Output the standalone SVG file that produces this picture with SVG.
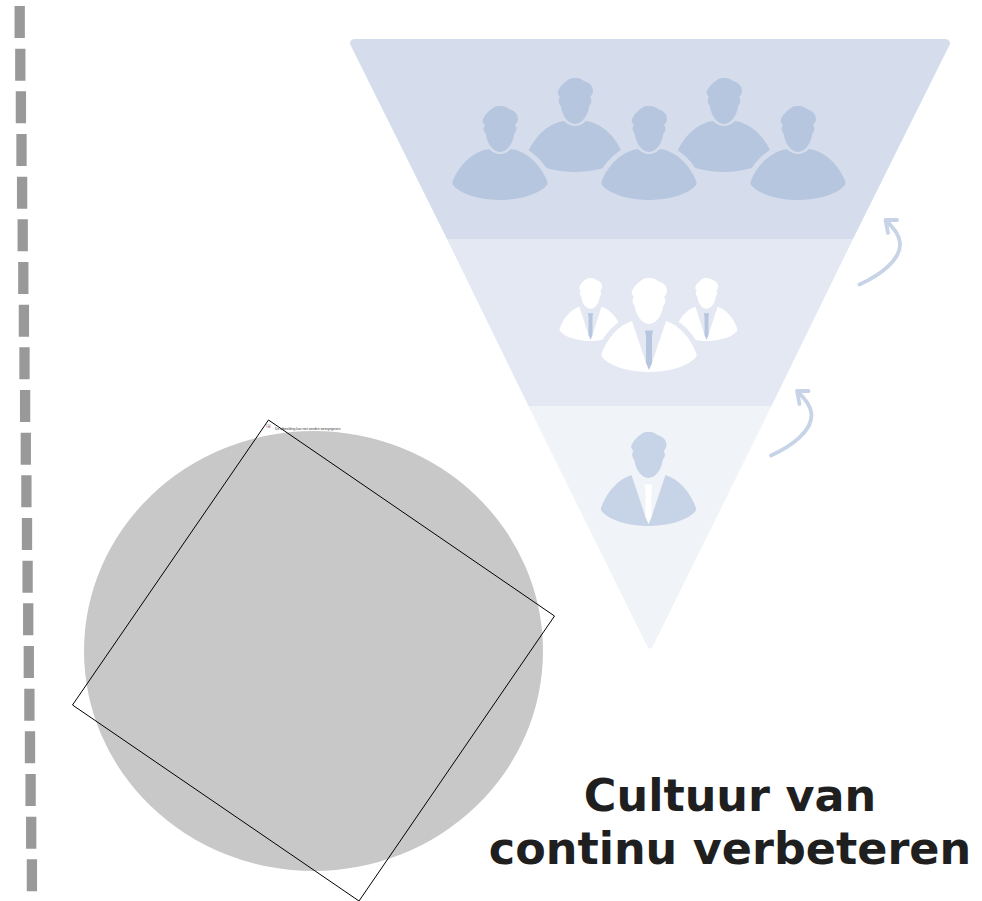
<svg xmlns="http://www.w3.org/2000/svg" xmlns:xlink="http://www.w3.org/1999/xlink" width="982" height="901" viewBox="0 0 982 901">
<style>
.arrow{fill:none;stroke:#c7d3e6;stroke-width:3.8;stroke-linecap:round;stroke-linejoin:round}
.title{font-family:"DejaVu Sans",Verdana,sans-serif;font-weight:700;font-size:44.5px;fill:#1f1f1f;text-anchor:middle}
</style>
<defs>
<path id="head" d="M0,0C4,-.5 7,1 9,3C13,4 18,7 18,13C18,16 16,18 15,19C16,20 17,23 16,25C15,27 14,28 14,29C13,37 7,46 0,46C-7,46 -13,37 -14,29C-14,28 -15,27 -16,25C-17,23 -16,20 -15,19C-17,17 -18,15 -17,13C-15,8 -9,3 -7,2C-5,0 -2,0 0,0Z"/>
<path id="body" d="M-11,43C-7,47 -3,48 0,48C3,48 7,47 11,43C27,45 42,60 47.5,76C47.8,77 47.5,78 47,79C38,90 15,94 0,94C-15,94 -38,90 -47,79C-47.5,78 -47.8,77 -47.5,76C-42,60 -27,45 -11,43Z"/>
<path id="suit" d="M-17,43C-30,47 -42,60 -47.5,76C-47.8,77 -47.5,78 -47,79C-38,90 -15,94 0,94C15,94 38,90 47,79C47.5,78 47.8,77 47.5,76C42,60 30,47 17,43L3,85Q0,92 -3,85Z"/>
<path id="outline" d="M-17,43C-30,47 -42,60 -47.5,76C-47.8,77 -47.5,78 -47,79C-38,90 -15,94 0,94C15,94 38,90 47,79C47.5,78 47.8,77 47.5,76C42,60 30,47 17,43Z"/>
<path id="tie" d="M-4,52.500H4L3,58L3,85L0,92L-3,85L-3,58Z"/>
</defs>
<rect width="982" height="901" fill="#fff"/>
<g id="dashed-line"><path d="M19.7,6v32M20.3,48.700v32M20.900,91.300v32M21.500,134v32M22.100,176.700v32M22.700,219.300v32M23.300,262v32M23.900,304.700v32M24.500,347.300v32M25.100,390v32M25.800,432.700v32M26.400,475.300v32M27,518v32M27.600,560.700v32M28.200,603.300v32M28.800,646v32M29.400,688.700v32M30,731.300v32M30.600,774v32M31.200,816.700v32M31.900,859.300v32" fill="none" stroke="#999" stroke-width="10.300"/></g>
<g id="picture-placeholder">
<ellipse cx="313.500" cy="651" rx="229.500" ry="220" fill="#c8c8c8"/>
<path d="M268.500,420L554.500,616L359,901L72.500,705Z" fill="none" stroke="#000" stroke-width="1"/>
<rect x="266" y="424" width="5" height="4" fill="#ddd"/>
<rect x="268" y="426" width="2" height="1.500" fill="#e88"/>
<text x="275" y="429.500" font-family="'Liberation Sans',Arial,sans-serif" font-size="3.300" fill="#333">De afbeelding kan niet worden weergegeven.</text>
</g>
<g id="tier-top">
<path d="M355,39H945C949,39 951,42 949.500,45L853,239H447L350.500,45C349,42 351,39 355,39Z" fill="#d5ddec"/>
<g fill="#b7c6df">
<g transform="translate(575,78)"><use xlink:href="#head"/><use xlink:href="#body"/></g>
<g transform="translate(724,78)"><use xlink:href="#head"/><use xlink:href="#body"/></g>
<g transform="translate(500,106)"><use xlink:href="#body" stroke="#d5ddec" stroke-width="10" paint-order="stroke"/><use xlink:href="#head"/></g>
<g transform="translate(649,106)"><use xlink:href="#body" stroke="#d5ddec" stroke-width="10" paint-order="stroke"/><use xlink:href="#head"/></g>
<g transform="translate(798,106)"><use xlink:href="#body" stroke="#d5ddec" stroke-width="10" paint-order="stroke"/><use xlink:href="#head"/></g>
</g>
</g>
<g id="tier-middle">
<path d="M447,239H853L771.500,406H528.500Z" fill="#e3e8f3"/>
<g transform="translate(590.500,278) scale(.65 .67)"><use xlink:href="#head" fill="#fff"/><use xlink:href="#suit" fill="#fff"/><use xlink:href="#tie" fill="#b7c6df"/></g>
<g transform="translate(706.500,278) scale(.65 .67)"><use xlink:href="#head" fill="#fff"/><use xlink:href="#suit" fill="#fff"/><use xlink:href="#tie" fill="#b7c6df"/></g>
<g transform="translate(649,278)"><use xlink:href="#outline" fill="#e3e8f3" stroke="#e3e8f3" stroke-width="10"/><use xlink:href="#head" fill="#fff"/><use xlink:href="#suit" fill="#fff"/><use xlink:href="#tie" fill="#b7c6df"/></g>
</g>
<g id="tier-bottom">
<path d="M528.500,406H771.500L653,646C651.500,649.500 648.500,649.500 647,646Z" fill="#f0f3f8"/>
<g transform="translate(648.500,432)"><use xlink:href="#head" fill="#c7d3e6"/><use xlink:href="#suit" fill="#c7d3e6"/><use xlink:href="#tie" fill="#fff"/></g>
</g>
<g id="connectors">
<g id="arrow-upper"><path class="arrow" d="M859.500,284.500C880,275 901,260 900,243C899,233 892,227 886,220M897,220H885.500L888,233"/></g>
<g id="arrow-lower"><path class="arrow" d="M771,455.500C791.500,446 812.500,431 811.500,414C810.500,404 803.500,398 797.500,391M808.500,391H797L799.500,404"/></g>
</g>
<g id="title">
<text class="title" x="730" y="811">Cultuur van</text>
<text class="title" x="730" y="864">continu verbeteren</text>
</g>
</svg>
